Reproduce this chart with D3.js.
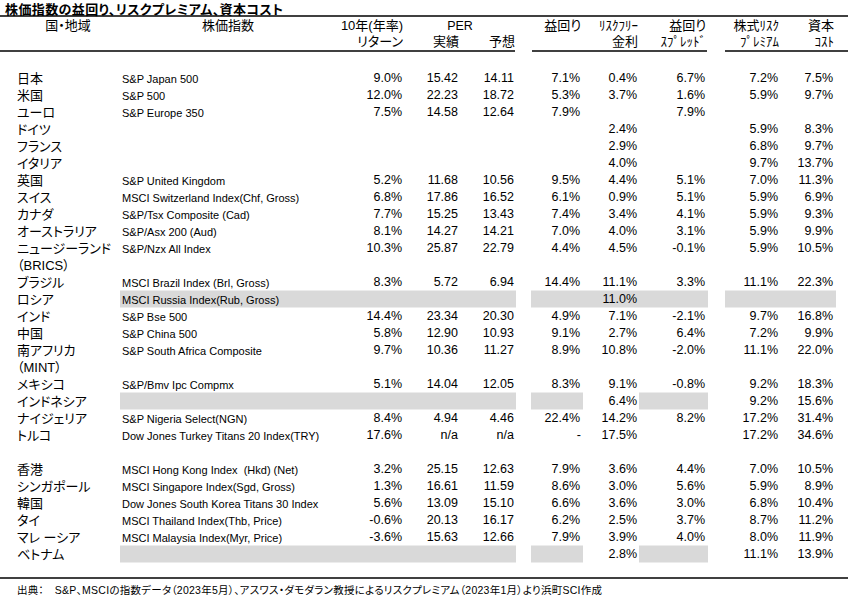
<!DOCTYPE html>
<html><head><meta charset="utf-8">
<script src="https://cdn.jsdelivr.net/npm/d3@7"></script>
<style>
html,body{margin:0;padding:0;background:#fff;}
svg{display:block;}
.jp{font-family:"Liberation Sans","Noto Sans CJK JP","Noto Sans CJK SC",sans-serif;font-feature-settings:"palt";}
.num{font-family:"Liberation Sans",Arial,sans-serif;white-space:pre;}
</style></head>
<body>
<svg id="chart" width="855" height="597"></svg>
<script>
// ---------- data ----------
const title = "株価指数の益回り、リスクプレミアム、資本コスト";
const footnote = "出典：　S&P、MSCIの指数データ（2023年5月）、アスワス・ダモダラン教授によるリスクプレミアム（2023年1月）より浜町SCI作成";
const countries = ["日本","米国","ユーロ","ドイツ","フランス","イタリア","英国","スイス","カナダ","オーストラリア","ニュージーランド","（BRICS）","ブラジル","ロシア","インド","中国","南アフリカ","（MINT）","メキシコ","インドネシア","ナイジェリア","トルコ","","香港","シンガポール","韓国","タイ","マレ ーシア","ベトナム"];
const indexNames = ["S&P Japan 500","S&P 500","S&P Europe 350","","","","S&P United Kingdom","MSCI Switzerland Index(Chf, Gross)","S&P/Tsx Composite (Cad)","S&P/Asx 200 (Aud)","S&P/Nzx All Index","","MSCI Brazil Index (Brl, Gross)","MSCI Russia Index(Rub, Gross)","S&P Bse 500","S&P China 500","S&P South Africa Composite","","S&P/Bmv Ipc Compmx","","S&P Nigeria Select(NGN)","Dow Jones Turkey Titans 20 Index(TRY)","","MSCI Hong Kong Index  (Hkd) (Net)","MSCI Singapore Index(Sgd, Gross)","Dow Jones South Korea Titans 30 Index","MSCI Thailand Index(Thb, Price)","MSCI Malaysia Index(Myr, Price)",""];
const return10y = [9.0,12.0,7.5,null,null,null,5.2,6.8,7.7,8.1,10.3,null,8.3,null,14.4,5.8,9.7,null,5.1,null,8.4,17.6,null,3.2,1.3,5.6,-0.6,-3.6,null];
const perActual = [15.42,22.23,14.58,null,null,null,11.68,17.86,15.25,14.27,25.87,null,5.72,null,23.34,12.90,10.36,null,14.04,null,4.94,"n/a",null,25.15,16.61,13.09,20.13,15.63,null];
const perForecast = [14.11,18.72,12.64,null,null,null,10.56,16.52,13.43,14.21,22.79,null,6.94,null,20.30,10.93,11.27,null,12.05,null,4.46,"n/a",null,12.63,11.59,15.10,16.17,12.66,null];
const earningsYield = [7.1,5.3,7.9,null,null,null,9.5,6.1,7.4,7.0,4.4,null,14.4,null,4.9,9.1,8.9,null,8.3,null,22.4,"-",null,7.9,8.6,6.6,6.2,7.9,null];
const riskFreeRate = [0.4,3.7,null,2.4,2.9,4.0,4.4,0.9,3.4,4.0,4.5,null,11.1,11.0,7.1,2.7,10.8,null,9.1,6.4,14.2,17.5,null,3.6,3.0,3.6,2.5,3.9,2.8];
const yieldSpread = [6.7,1.6,7.9,null,null,null,5.1,5.1,4.1,3.1,-0.1,null,3.3,null,-2.1,6.4,-2.0,null,-0.8,null,8.2,null,null,4.4,5.6,3.0,3.7,4.0,null];
const equityRiskPremium = [7.2,5.9,null,5.9,6.8,9.7,7.0,5.9,5.9,5.9,5.9,null,11.1,null,9.7,7.2,11.1,null,9.2,9.2,17.2,17.2,null,7.0,5.9,6.8,8.7,8.0,11.1];
const costOfCapital = [7.5,9.7,null,8.3,9.7,13.7,11.3,6.9,9.3,9.9,10.5,null,22.3,null,16.8,9.9,22.0,null,18.3,15.6,31.4,34.6,null,10.5,8.9,10.4,11.2,11.9,13.9];
// shaded (no data) cells: row label -> column keys
const shadedRows = ["ロシア","インドネシア","ベトナム"];
const shadedCols = [
  ["index","ret","perA","perF","ey","rf","spread","erp","coc"],
  ["index","ret","perA","perF","ey","spread"],
  ["index","ret","perA","perF","ey","spread"]
];
const headerLine1 = {country:"国・地域", index:"株価指数", ret:"10年(年率)", per:"PER", ey:"益回り", rf:"ﾘｽｸﾌﾘｰ", spread:"益回り", erp:"株式ﾘｽｸ", coc:"資本"};
const headerLine2 = {ret:"リターン", perA:"実績", perF:"予想", rf:"金利", spread:"ｽﾌﾟﾚｯﾄﾞ", erp:"ﾌﾟﾚﾐｱﾑ", coc:"ｺｽﾄ"};

// ---------- layout ----------
const svg = d3.select("#chart");
const rowScale = d3.scaleBand().domain(d3.range(countries.length)).range([69, 69 + 17*countries.length]).padding(0);
// cell extents [x0, x1]
const cells = {
  country:[0,120], index:[120,345], ret:[345,405], perA:[405,461], perF:[461,516],
  ey:[531,583], rf:[583,639], spread:[639,708], erp:[725,781], coc:[781,836]
};
const rightEdge = {ret:402, perA:458, perF:514, ey:580, rf:637, spread:705, erp:778, coc:833};

const pct = v => v == null ? "" : (typeof v === "string" ? v : v.toFixed(1) + "%");
const dec = v => v == null ? "" : (typeof v === "string" ? v : v.toFixed(2));

const numCols = [
  {key:"ret", vals:return10y, fmt:pct},
  {key:"perA", vals:perActual, fmt:dec},
  {key:"perF", vals:perForecast, fmt:dec},
  {key:"ey", vals:earningsYield, fmt:pct},
  {key:"rf", vals:riskFreeRate, fmt:pct},
  {key:"spread", vals:yieldSpread, fmt:pct},
  {key:"erp", vals:equityRiskPremium, fmt:pct},
  {key:"coc", vals:costOfCapital, fmt:pct}
];

// shaded cells
const shade = [];
shadedRows.forEach((name,i)=>{
  const r = countries.indexOf(name);
  shadedCols[i].forEach(k=>shade.push({r, k}));
});
svg.append("g").selectAll("rect").data(shade).join("rect")
  .attr("x", d=>cells[d.k][0]).attr("width", d=>cells[d.k][1]-cells[d.k][0])
  .attr("y", d=>rowScale(d.r)+0.5).attr("height", rowScale.bandwidth())
  .attr("fill", "#d9d9d9");

// title
svg.append("text").attr("class","jp").attr("x",5).attr("y",13.5)
  .attr("font-size",13).attr("font-weight","bold").attr("letter-spacing",0.4).attr("fill","#000").text(title);

// rules
const lines = [
  {x1:0,x2:848,y:16},
  {x1:0,x2:515,y:51},{x1:532,x2:707,y:51},{x1:725,x2:848,y:51},
  {x1:0,x2:848,y:578}
];
svg.append("g").selectAll("line").data(lines).join("line")
  .attr("x1",d=>d.x1).attr("x2",d=>d.x2).attr("y1",d=>d.y).attr("y2",d=>d.y)
  .attr("stroke","#000").attr("stroke-width",1.3);

// headers
const h = svg.append("g").attr("fill","#000");
h.append("text").attr("class","jp").attr("x",68).attr("y",30).attr("text-anchor","middle").attr("font-size",13).text(headerLine1.country);
h.append("text").attr("class","jp").attr("x",228).attr("y",30).attr("text-anchor","middle").attr("font-size",13).text(headerLine1.index);
h.append("text").attr("class","num").attr("x",460).attr("y",30).attr("text-anchor","middle").attr("font-size",12.5).text(headerLine1.per);
["ret","ey","rf","spread","erp","coc"].forEach(k=>{
  h.append("text").attr("class","jp").attr("x",rightEdge[k]+1).attr("y",30).attr("text-anchor","end").attr("font-size",13).text(headerLine1[k]);
});
Object.keys(headerLine2).forEach(k=>{
  h.append("text").attr("class","jp").attr("x",rightEdge[k]+1).attr("y",46).attr("text-anchor","end").attr("font-size",13).text(headerLine2[k]);
});

// body
const rows = svg.append("g").selectAll("g").data(countries.map((c,i)=>i)).join("g")
  .attr("transform", i=>`translate(0,${rowScale(i)})`);
rows.append("text").attr("class","jp").attr("x",17).attr("y",13.5).attr("font-size",13).attr("fill","#000")
  .text(i=>countries[i]);
rows.append("text").attr("class","num").attr("x",122).attr("y",14).attr("font-size",11).attr("fill","#000")
  .text(i=>indexNames[i]);
numCols.forEach(col=>{
  rows.append("text").attr("class","num").attr("x",i=> col.vals[i]==="-" ? rightEdge[col.key]+1 : rightEdge[col.key])
    .attr("y",12.5).attr("text-anchor","end").attr("font-size",12.5).attr("fill","#000")
    .text(i=>col.fmt(col.vals[i]));
});

// footnote
svg.append("text").attr("class","jp").attr("x",17).attr("y",594).attr("font-size",10.5).attr("fill","#000")
  .attr("textLength",585).attr("lengthAdjust","spacing").text(footnote);
</script>
</body></html>
